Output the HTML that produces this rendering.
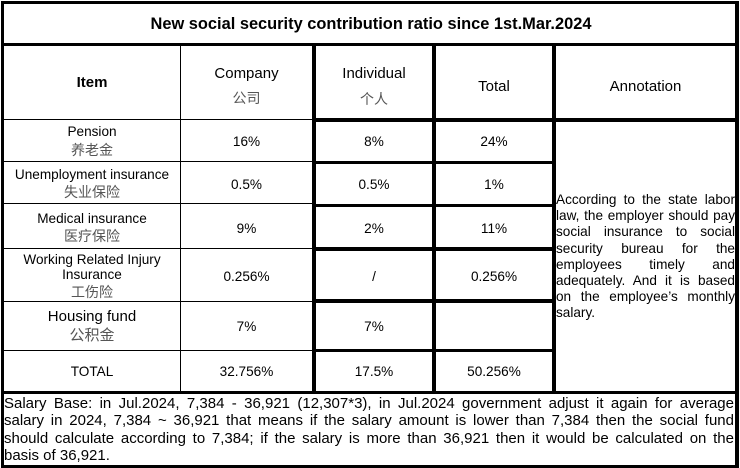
<!DOCTYPE html>
<html>
<head>
<meta charset="utf-8">
<style>
  html, body { margin:0; padding:0; background:#fff; }
  body { width:740px; height:468px; position:relative; overflow:hidden;
         font-family:"Liberation Sans", Arial, "Noto Sans CJK SC", sans-serif; color:#000; }
  .l { position:absolute; background:#000; }
  .t { position:absolute; height:20px; line-height:20px; text-align:center; white-space:nowrap; }
  .z { font-family:"Liberation Sans", "Noto Sans CJK SC", sans-serif; color:#555; font-size:14px; }
  .b { font-size:13.6px; }
  .h { font-size:15px; }
  .j { position:absolute; height:20px; line-height:20px; text-align:justify; text-align-last:justify; }
  .a { font-size:13.6px; left:556px; width:179px; }
  .p { font-size:15px; left:4px; width:730px; }
</style>
</head>
<body>
<!-- borders -->
<div class="l" style="left:1px;top:1px;width:738px;height:3px;"></div>
<div class="l" style="left:1px;top:1px;width:3px;height:467px;"></div>
<div class="l" style="left:735px;top:1px;width:4px;height:467px;"></div>
<div class="l" style="left:1px;top:465px;width:738px;height:3px;"></div>
<div class="l" style="left:1px;top:43px;width:738px;height:3px;"></div>
<!-- header bottom -->
<div class="l" style="left:4px;top:119px;width:308px;height:1px;"></div>
<div class="l" style="left:312px;top:118px;width:427px;height:4px;"></div>
<!-- vertical lines -->
<div class="l" style="left:180px;top:46px;width:1px;height:346px;"></div>
<div class="l" style="left:312px;top:46px;width:4px;height:346px;"></div>
<div class="l" style="left:432px;top:46px;width:4px;height:346px;"></div>
<div class="l" style="left:552px;top:46px;width:4px;height:346px;"></div>
<!-- thin row lines -->
<div class="l" style="left:4px;top:161px;width:308px;height:1px;"></div>
<div class="l" style="left:4px;top:203px;width:308px;height:1px;"></div>
<div class="l" style="left:4px;top:248px;width:308px;height:1px;"></div>
<div class="l" style="left:4px;top:301px;width:308px;height:1px;"></div>
<div class="l" style="left:4px;top:350px;width:308px;height:1px;"></div>
<!-- thick row lines -->
<div class="l" style="left:312px;top:161px;width:244px;height:3px;"></div>
<div class="l" style="left:312px;top:204px;width:244px;height:3px;"></div>
<div class="l" style="left:312px;top:247px;width:244px;height:4px;"></div>
<div class="l" style="left:312px;top:299px;width:244px;height:4px;"></div>
<div class="l" style="left:312px;top:349px;width:244px;height:3px;"></div>
<div class="l" style="left:1px;top:391px;width:738px;height:3px;"></div>

<!-- title -->
<div class="t" style="left:1px;width:740px;top:14px;font-size:16.4px;font-weight:bold;">New social security contribution ratio since 1st.Mar.2024</div>

<!-- header -->
<div class="t h" style="left:4px;width:176px;top:72.5px;font-weight:bold;">Item</div>
<div class="t h" style="left:181px;width:131px;top:64px;">Company</div>
<div class="t z" style="left:181px;width:131px;top:88px;">公司</div>
<div class="t h" style="left:316px;width:116px;top:64px;">Individual</div>
<div class="t z" style="left:316px;width:116px;top:88.5px;">个人</div>
<div class="t h" style="left:436px;width:116px;top:77px;">Total</div>
<div class="t h" style="left:556px;width:179px;top:77px;">Annotation</div>

<!-- item column -->
<div class="t b" style="left:4px;width:176px;top:122px;">Pension</div>
<div class="t z" style="left:4px;width:176px;top:139.5px;">养老金</div>
<div class="t b" style="left:4px;width:176px;top:165.3px;">Unemployment insurance</div>
<div class="t z" style="left:4px;width:176px;top:182.2px;">失业保险</div>
<div class="t b" style="left:4px;width:176px;top:209.3px;">Medical insurance</div>
<div class="t z" style="left:4px;width:176px;top:226px;">医疗保险</div>
<div class="t b" style="left:4px;width:176px;top:249.5px;">Working Related Injury</div>
<div class="t b" style="left:4px;width:176px;top:265.3px;">Insurance</div>
<div class="t z" style="left:4px;width:176px;top:282.2px;">工伤险</div>
<div class="t h" style="left:4px;width:176px;top:306.5px;">Housing fund</div>
<div class="t z" style="left:4px;width:176px;top:326px;font-size:15px;">公积金</div>
<div class="t b" style="left:4px;width:176px;top:362px;">TOTAL</div>

<!-- company -->
<div class="t b" style="left:181px;width:131px;top:131.7px;">16%</div>
<div class="t b" style="left:181px;width:131px;top:174.5px;">0.5%</div>
<div class="t b" style="left:181px;width:131px;top:218.7px;">9%</div>
<div class="t b" style="left:181px;width:131px;top:266.7px;">0.256%</div>
<div class="t b" style="left:181px;width:131px;top:316.7px;">7%</div>
<div class="t b" style="left:181px;width:131px;top:362px;">32.756%</div>

<!-- individual -->
<div class="t b" style="left:316px;width:116px;top:131.7px;">8%</div>
<div class="t b" style="left:316px;width:116px;top:174.5px;">0.5%</div>
<div class="t b" style="left:316px;width:116px;top:218.7px;">2%</div>
<div class="t b" style="left:316px;width:116px;top:266.7px;">/</div>
<div class="t b" style="left:316px;width:116px;top:316.7px;">7%</div>
<div class="t b" style="left:316px;width:116px;top:362px;">17.5%</div>

<!-- total -->
<div class="t b" style="left:436px;width:116px;top:131.7px;">24%</div>
<div class="t b" style="left:436px;width:116px;top:174.5px;">1%</div>
<div class="t b" style="left:436px;width:116px;top:218.7px;">11%</div>
<div class="t b" style="left:436px;width:116px;top:266.7px;">0.256%</div>
<div class="t b" style="left:436px;width:116px;top:362px;">50.256%</div>

<!-- annotation -->
<div class="j a" style="top:190px;">According to the state labor</div>
<div class="j a" style="top:206.2px;">law, the employer should pay</div>
<div class="j a" style="top:222.4px;">social insurance to social</div>
<div class="j a" style="top:238.6px;">security bureau for the</div>
<div class="j a" style="top:254.8px;">employees timely and</div>
<div class="j a" style="top:271px;">adequately. And it is based</div>
<div class="j a" style="top:287.2px;">on the employee’s monthly</div>
<div class="j a" style="top:303.4px;text-align-last:left;">salary.</div>

<!-- bottom paragraph -->
<div class="j p" style="top:393.7px;">Salary Base: in Jul.2024, 7,384 - 36,921 (12,307*3), in Jul.2024 government adjust it again for average</div>
<div class="j p" style="top:411px;">salary in 2024, 7,384 ~ 36,921 that means if the salary amount is lower than 7,384 then the social fund</div>
<div class="j p" style="top:428.5px;">should calculate according to 7,384; if the salary is more than 36,921 then it would be calculated on the</div>
<div class="j p" style="top:446px;text-align-last:left;">basis of 36,921.</div>
</body>
</html>
